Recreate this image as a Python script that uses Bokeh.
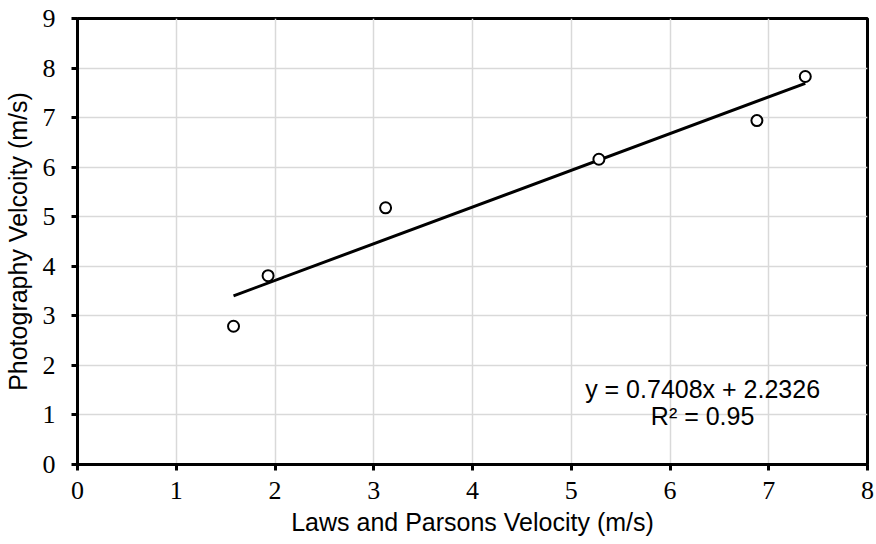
from bokeh.plotting import figure
from bokeh.models import Label, Range1d, FixedTicker
from bokeh.embed import file_html
from bokeh.resources import INLINE

laws_parsons = [1.58, 1.93, 3.12, 5.28, 6.88, 7.37]
photography = [2.79, 3.81, 5.18, 6.16, 6.94, 7.83]
slope = 0.7408
intercept = 2.2326
eq_text = "y = 0.7408x + 2.2326"
r2_text = "R² = 0.95"
x_ticks = [0, 1, 2, 3, 4, 5, 6, 7, 8]
y_ticks = [0, 1, 2, 3, 4, 5, 6, 7, 8, 9]

p = figure(width=876, height=544, output_backend="svg", toolbar_location=None,
           x_range=Range1d(0, 8), y_range=Range1d(0, 9),
           min_border_left=76, min_border_right=9, min_border_top=18, min_border_bottom=80)
p.background_fill_color = "white"
p.border_fill_color = "white"
p.outline_line_color = "black"
p.outline_line_width = 3

for ax in (p.xaxis[0], p.yaxis[0]):
    ax.axis_line_width = 3
    ax.axis_line_color = "black"
    ax.major_tick_line_width = 3
    ax.major_tick_out = 6
    ax.major_tick_in = 0
    ax.minor_tick_line_color = None
    ax.major_label_text_font = "Liberation Serif"
    ax.major_label_text_font_size = "26px"
    ax.major_label_text_color = "black"
    ax.axis_label_text_font = "Liberation Sans"
    ax.axis_label_text_font_size = "25px"
    ax.axis_label_text_font_style = "normal"
    ax.axis_label_text_color = "black"

p.xaxis.ticker = FixedTicker(ticks=x_ticks)
p.yaxis.ticker = FixedTicker(ticks=y_ticks)
p.xaxis.axis_label = "Laws and Parsons Velocity (m/s)"
p.yaxis.axis_label = "Photography Velcoity (m/s)"
p.xaxis.major_label_standoff = 11
p.yaxis.major_label_standoff = 16
p.xaxis.axis_label_standoff = 6
p.yaxis.axis_label_standoff = 8

p.xgrid.ticker = FixedTicker(ticks=x_ticks)
p.ygrid.ticker = FixedTicker(ticks=y_ticks)
p.grid.grid_line_color = "#d9d9d9"
p.grid.grid_line_width = 1.5

x0, x1 = min(laws_parsons), max(laws_parsons)
p.line([x0, x1], [slope * x0 + intercept, slope * x1 + intercept],
       line_color="black", line_width=3)
p.scatter(laws_parsons, photography, marker="circle", size=11,
          fill_color="white", line_color="black", line_width=2)

p.add_layout(Label(x=6.33, y=1.53, text=eq_text, text_align="center", text_baseline="middle",
                   text_font="Liberation Sans", text_font_size="25px", text_color="black"))
p.add_layout(Label(x=6.33, y=0.97, text=r2_text, text_align="center", text_baseline="middle",
                   text_font="Liberation Sans", text_font_size="25px", text_color="black"))

open("out.html", "w").write(file_html(p, INLINE))
